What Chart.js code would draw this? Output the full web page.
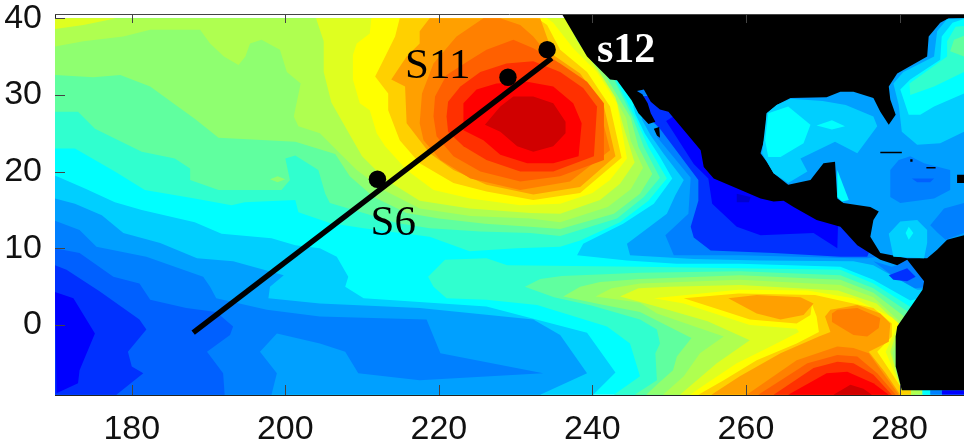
<!DOCTYPE html>
<html>
<head>
<meta charset="utf-8">
<style>
  html, body { margin: 0; padding: 0; background: #fff; }
  #wrap { width: 964px; height: 440px; }
</style>
<script src="https://cdn.jsdelivr.net/npm/chart.js@4"></script>
</head>
<body>
<div id="wrap"><canvas id="map" width="964" height="440"></canvas></div>
<script>
// tick labels
const lonTicks = [180, 200, 220, 240, 260, 280];
const latTicks = [0, 10, 20, 30, 40];

// section line and stations (lon, lat)
const sectionLon = [188, 234.7];
const sectionLat = [-1, 34.8];
const stationLon = [212, 229, 234.1];
const stationLat = [19, 32.3, 35.9];

// contour outlines, flat lon,lat lists
const seaBase = [170,-9.1, 288.4,-9.1, 288.4,40, 170,40];

// warm tongue north of 10N
const north7 = [170,40, 170,23, 172.6,23, 177.8,20, 181.7,17.6, 188.2,16.5, 193,15.6, 194.7,16, 201.3,16.3, 201.7,14.7, 205.8,13.3, 210.2,12.6, 218.8,11.5, 224,9.6, 230.1,10, 235.8,10.2, 238.4,11, 243.6,13.4, 247.3,16.2, 249.7,19.1, 247.3,23.2, 245.5,27.2, 243,32, 240,40];
const north8 = [170,40, 170,27.8, 173,27.8, 175.2,25.6, 181.3,22.6, 185.6,21.7, 187.6,20.4, 187.6,18.9, 191.3,17.6, 199.5,17.6, 200.6,18.9, 200,21.7, 201.3,22.1, 204.3,20.2, 205.2,17.1, 205.8,15.9, 210.2,14.6, 214.5,13.3, 218.8,12.6, 225.4,12.2, 231.9,12, 235.8,11.6, 243.2,13.9, 246.7,16.7, 248.8,19.2, 246.7,23.2, 245.2,27.2, 242.8,32, 239,40];
const north9 = [170,40, 170,32.6, 175,32.3, 178.5,32.6, 182.4,31.1, 185.4,28.9, 188.2,26.9, 191.3,24.4, 201.3,23.9, 206.5,22.3, 208.4,19.4, 211.5,16.7, 215.8,14.6, 220,13.9, 226,13.2, 231.9,12.8, 235.8,12.5, 242.8,14.5, 246.2,17.1, 247.8,19.7, 246,23.2, 245,27, 242,32, 238.5,40];
const north10 = [170,40, 170,36.3, 173.7,37, 178.9,37.6, 182.4,38.5, 188.9,38.5, 190.2,36.7, 192,35, 193.9,33.9, 194.8,35, 195.4,36.7, 196.9,37.2, 199.3,35.9, 200.2,33, 202,31.5, 201.1,27.2, 201.7,25.9, 204.5,25, 207.1,22.4, 209.3,20.2, 212.8,17.6, 217.5,15.2, 224.1,14.2, 231.9,13.9, 235.8,13.4, 242,15.4, 245,17.7, 246.6,20.5, 245,24, 244.4,27, 241,33, 238,37, 237,40];
const north11 = [204,40, 205,37, 205,33, 206,29, 208,25.5, 210,22, 213,19, 217.5,16.2, 224,15.2, 231.9,14.6, 235.8,14.5, 241,16.3, 243.6,18.4, 245.5,21.2, 244,26, 243,29.7, 240.5,33.5, 238,37, 236.5,40];
const corner11 = [170,40, 178,40, 173.7,39.1, 170,38.6];
const north12 = [211.2,40, 211,38, 209.3,36.7, 208.8,35.2, 208.8,32, 209.7,28.9, 211,28, 211.9,25, 213,23.3, 215.8,20.2, 219.3,17.6, 224.1,16.5, 230.6,15.6, 235.8,15.8, 240,17.2, 242.3,18.9, 244.5,21.7, 243.2,28.9, 240.6,33, 237.5,36.1, 234.9,39.4, 234.1,40];
const north13 = [214.9,40, 214.3,37.6, 212.8,34.6, 211.7,32.4, 213.4,30.2, 213.4,28, 214.9,24.1, 217.5,21.1, 221.9,18.5, 226.2,17.4, 232.3,16.3, 238.4,17.2, 243.8,21.8, 242.3,28.5, 239.3,33, 235.8,35.9, 234.1,39.1, 232.8,40];
const north14 = [218.8,40, 217.5,38.3, 217.5,36.7, 215.8,35, 213.8,32, 215.6,31.1, 215.8,26.3, 218.8,22.4, 221.9,20.2, 226.2,18.3, 232.3,17, 238.4,18, 243,22, 241.5,28.5, 238.4,32.8, 234.9,35.2, 233.2,40];
const north15 = [217.5,26.3, 217.8,30.2, 219.3,34.1, 222.3,37.6, 225.8,40, 228,40, 230.6,39.1, 232.3,37.6, 234.1,35.4, 237.5,32.6, 240.6,29.6, 242.3,22.8, 237.1,18.7, 230.6,17.6, 224.1,19.1, 220.2,21.5, 218,24.1];
const north16 = [219.3,27.2, 219.5,29.8, 221,32.6, 224.1,34.6, 226.2,35.9, 229.7,37.2, 232.3,36.1, 235.8,34.1, 239.3,31.7, 241.5,28.9, 241.5,21.5, 235.8,19.4, 230.6,18.7, 225.4,20, 221.9,22, 219.7,24.6];
const north17 = [221,27.2, 221.2,29.1, 222.8,31.1, 225.4,33, 228.8,34.1, 232.3,34.4, 235.8,33, 238.8,30.9, 240.6,28.5, 240.2,22, 234.9,20, 230.6,20, 226.2,21.5, 223.2,23.3, 221.2,25.2];
const north18 = [223.2,28.9, 224.9,30.7, 227.5,31.5, 231.5,31.7, 234.9,31.1, 237.5,28.9, 238.6,26.3, 238.2,22, 234.9,21.1, 231.5,21.1, 228,22.2, 225.8,24.1, 223.2,25.4];
const north19 = [226,26.1, 228,28.5, 229.7,29.8, 232.3,29.8, 234.9,28.9, 236.5,26.5, 236.5,25, 234.9,23.3, 232.3,22.6, 230.2,23.3, 228,25.2];
const speck9 = [198,19, 199,19.4, 200,19, 199,18.6];

// warm tongue along the equator
const south7 = [218.6,6.3, 220.8,8.5, 226.2,8.7, 228.9,7.8, 246.2,7.6, 259.2,7.4, 272.3,7.2, 276.6,5.4, 282,2, 282,-9.1, 242.8,-9.1, 246.2,-6.7, 244.9,-2.4, 241.9,-0.2, 232.8,2.6, 226.2,3.3, 221,3.5, 219.3,5];
const south8 = [231.2,5, 233.2,6, 236,6.4, 246.2,6.8, 259.2,7, 272.3,6.5, 276.6,4.8, 281,1.8, 282,-9.1, 245.5,-9.1, 248.4,-7.2, 248.2,-3.7, 248.8,-2.4, 248.4,-0.6, 246.2,0.7, 240,2.5, 235,3.6];
const south9 = [236.2,3.7, 238.4,5, 241,5.6, 246.2,6, 259.2,6.5, 272.3,5.9, 276.6,4.2, 280.5,1.2, 282,-3, 282,-9.1, 247,-9.1, 248.6,-7.6, 250.5,-5.9, 251,-4.1, 252.9,-1.7, 246.2,1.7, 241,2.7];
const south10 = [240.4,3.7, 242.5,4.8, 246.2,5.4, 259.2,5.9, 272.3,5.2, 276.6,3.6, 280,0.5, 279.5,-2.4, 279.1,-3.7, 279.7,-6.7, 281,-9.1, 249.2,-9.1, 251.9,-6.7, 254,-3.7, 257.1,-1.5, 248.4,1.5, 246.2,2.9];
const south11 = [243.6,3.7, 246,4.8, 250,5, 259.2,5.2, 272,4.5, 277,2.8, 280,0, 279.5,-1.3, 278.8,-3.5, 280.3,-8.7, 280.6,-9.1, 251.4,-9.1, 256.2,-5, 260.5,-2, 255,0.5, 248,2.5];
const south12 = [248,3.5, 259,4.6, 268,4.5, 274,3.5, 279,1, 279.9,0.2, 278.2,-3.5, 280.3,-8.5, 280.6,-9.1, 252.7,-9.1, 254.9,-7.6, 258.8,-5, 263.2,-2.8, 266.9,-0.9, 266.6,-0.5, 260.5,0, 257.1,1.1, 251.9,2.8];
const south13 = [251.9,3.5, 259,4.1, 269,3.9, 276.6,2.2, 279,0.2, 279,-1.5, 277.1,-3.5, 280.1,-8, 280.4,-9.1, 253.8,-9.1, 257.1,-7.2, 261.4,-4.6, 266.6,-2.4, 269.5,-0.9, 269.2,1.1, 268.6,2.7, 268.4,1.3, 266.6,0.2, 260.5,0.7, 257.5,1.7];
const blob14 = [257.7,3.5, 261.4,3.9, 267.1,3.6, 268.8,2.8, 267.5,1.3, 264.5,0.7, 261.4,1.5];
const south14 = [255.5,-9.1, 259.2,-6.7, 264.5,-3.7, 269.5,-1.5, 271,-0.9, 270.3,1.1, 271,2, 274.5,2.6, 277.5,1.5, 278.8,0.2, 278.6,-2.2, 276,-3.5, 278.2,-6.3, 280.1,-9.1];
const blob15 = [271.2,1.5, 271.9,2, 274.5,2.2, 277.5,0.9, 277.3,-0.4, 275.8,-1.5, 274,-1.3, 271.2,0.4];
const south15 = [260.1,-9.1, 266.6,-4.6, 271.9,-2.8, 274,-3, 276,-3.7, 279.9,-9.1];
const south16 = [261.6,-9.1, 268,-5, 271.9,-3.9, 274.5,-4.1, 277.1,-6.3, 279.5,-9.1];
const south17 = [263.6,-9.1, 268.8,-5.6, 271.9,-4.8, 274,-5, 276.6,-6.5, 279,-9.1];
const south18 = [265.5,-9.1, 270.5,-6.3, 273.2,-6.1, 276.6,-7.6, 278.6,-9.1];
const south19 = [271.4,-9.1, 273.6,-7.8, 275.3,-8.3, 276.4,-9.1];

// cold water, west and south
const west5 = [170,19.5, 173.9,17.8, 177.8,16, 181.3,15, 188.2,13.4, 191.7,11.9, 198.2,11.3, 201.3,10.4, 204.5,10, 206.7,8.9, 208.2,6.3, 207.8,5, 210.2,3.5, 226.2,2.4, 239.3,-1, 243,-6.2, 240.1,-9.1, 170,-9.1];
const west4 = [170,16.5, 172.6,15.8, 176.1,14.3, 178.9,12, 183.7,10.7, 188.5,8.7, 193.2,8.3, 199.8,6.5, 198,5, 197.8,3.5, 204.5,2.8, 217.5,2.2, 232.3,0.7, 235.8,-1.3, 239.3,-6.3, 233.2,-9.1, 170,-9.1];
const west3 = [170,13.6, 173.2,12.4, 175.4,10.2, 181.9,8.9, 189.3,6.3, 190.2,5, 191,3.5, 197.6,2, 204.5,1.1, 218.4,0.7, 220.2,-3.7, 233.6,-6.3, 217.5,-7.2, 209.5,-6.3, 207.8,-3.5, 204.5,-2.4, 198.9,-1.1, 196.7,-3.5, 198.9,-6.3, 198.2,-9.1, 170,-9.1];
const west2 = [170,10, 173.2,9.4, 177.6,6.3, 181,5.4, 182.4,3.3, 187.1,2.2, 191,1.7, 193.2,-0.2, 192.8,-1.3, 189.8,-3.5, 191.9,-6.3, 192.1,-9.1, 170,-9.1];
const west1 = [170,7.8, 171.5,7.2, 175.8,4.4, 181,0.7, 181.9,-0.6, 179.5,-3.5, 180,-5.4, 181.5,-6.3, 178,-9.1, 170,-9.1];
const west0 = [170,4.3, 172.4,3.5, 175.2,-1.1, 173.2,-5.9, 173,-7.6, 170.2,-8.9];

// cold water along the Mexican coast
const coast5 = [238,9.1, 238.8,10.6, 244,13.2, 248,15.8, 250.4,19.1, 248.8,21.9, 246.8,25, 245.6,27.5, 245.3,28.6, 250,32, 285,10, 285,4, 281.4,3.2, 276.6,5.9, 272.3,7.6, 259.2,8, 251,8, 244.5,8.4];
const coast4 = [244.5,10.6, 249.7,14.5, 250.8,16.9, 251.9,18.9, 249.3,22.3, 247.6,24.7, 246.4,26.9, 250,32, 285,10, 285,4.6, 282.3,4.6, 276.6,7.8, 274,8.3, 261.9,8.4, 253.2,8.6, 244.9,9.1];
const coast3 = [248.4,24.5, 252.8,19.2, 252.5,14.5, 249.5,11.7, 250.6,9.1, 259.2,9.1, 274,8.7, 275.8,8.7, 278,9, 276,14, 268,20, 250,30];
const coast2 = [248.8,25.6, 253.8,18.9, 253.8,16.2, 252.8,12.8, 253.2,11.4, 255.4,9.7, 263.6,9.4, 272.3,8.9, 275.8,8.9, 277,12, 268,20, 250,30];
const coast1 = [249.6,26.6, 253.2,21, 255.1,19.1, 255.6,15.8, 258.8,12.8, 261.9,11.7, 268.8,12, 271.9,10, 272,13.3, 271,14, 268,20, 255,30];
const coast0 = [258.8,17.1, 260.6,16.7, 260.4,16, 258.8,16];
const bight3 = [276.6,8.3, 279,7.6, 279.7,7.8, 281,8.5, 283,6.3, 284,5, 282,4.8, 279,6.5];
const bight2 = [278.6,6.5, 281,7.4, 282.1,6.3, 281,5.7, 279.2,5.9];
// Gulf of California strip
const strip1 = [246.6,29.9, 247.5,29.9, 250,27.8, 249.6,26.6, 248.8,25.6, 247.6,26.8];
const strip3 = [245.5,30.6, 246.9,30.9, 247.5,29.9, 246.6,29.9];

// land
const pacificCoast = [236,40.6, 239.3,35, 242.3,32, 243.2,31.9, 245.1,29.3, 246,27.6, 247.3,26.2, 248.2,26.5, 247.6,27.6, 247.2,28.9, 246.5,30.1, 245.8,30.5, 246.7,30.7, 247.6,29.1, 248.8,28.1, 249.9,27.8, 254.1,22.8, 254.5,20.6, 255.8,19.1, 258.4,18, 261.9,16.5, 263.6,16.1, 264.9,16.2, 266.2,15.4, 269.2,13.7, 272.3,12.8, 274.5,10.4, 277.5,8.5, 279.7,7.8, 281,8.5, 283.2,5.7, 283,4.6, 279.7,-0.2, 279.5,-1.5, 279.5,-5.4, 280.3,-8.5, 288.4,-8.5, 288.4,40.6];
const bajaTip = [248,25.6, 248.7,25.8, 248.8,24.4, 248.4,24.7];

// strip under the land at the bottom edge
const edgeA = [280.3,-9.1, 281.5,-9.1, 281.5,-8.5, 280.3,-8.5];
const edgeB = [281.5,-9.1, 283,-9.1, 283,-8.5, 281.5,-8.5];
const edgeC = [283,-9.1, 284,-9.1, 284,-8.5, 283,-8.5];
const edgeD = [284,-9.1, 285.5,-9.1, 285.5,-8.5, 284,-8.5];
const edgeE = [285.5,-9.1, 288.4,-9.1, 288.4,-8.5, 285.5,-8.5];

// Gulf, Caribbean and Atlantic
const atlantic4 = [286.4,40, 288.4,40, 288.4,11.7, 286.2,11.1, 284.9,9.8, 283.6,8.7, 281,8.7, 277.5,9.4, 276.2,11.5, 276.6,13.7, 277.3,14.8, 276.2,15.4, 272.7,15.9, 271.9,16.5, 271.6,21.3, 270.1,21.1, 268.4,18.9, 265.5,18.3, 263.6,19.8, 262.7,21.3, 261.9,22.4, 262.5,24.6, 262.7,27.6, 264,28.7, 265.8,29.6, 270.5,29.7, 272.3,30.4, 274,30.4, 276.6,29.6, 277.5,27.8, 278.6,26.1, 279.5,27.4, 278.8,29.4, 278.6,31.1, 279.7,32.8, 283.6,35, 283.8,37.6, 285.3,39.4];
const gulf5 = [262.7,27.6, 264,28.7, 265.8,29.5, 270,29.2, 273,28.7, 276.6,27.2, 277.1,25.9, 274.5,22.4, 271.6,23.9, 267.1,21.7, 268,20, 265.5,18.5, 263.6,19.8, 262.1,22.4];
const gulf6 = [262.9,27.6, 265.5,28.5, 268.4,26.1, 267.5,23.7, 264.5,21.9, 262.9,21.9, 262.5,24.1];
const gulfDiamond = [269.2,26, 271.2,26.7, 272.9,25.9, 271.2,25.5];
const atlantic5 = [286.2,39.9, 284.9,38.3, 284.5,35, 280.5,33, 279.2,31.5, 279.9,28.7, 280.3,25.2, 282.3,23.5, 285.3,23.7, 288.4,25.2, 288.4,40];
const atlantic6 = [286.9,39.4, 285.5,37.6, 285.3,34.6, 281.4,32, 280.1,30.7, 281.2,27.4, 282.7,27.4, 284.5,28.5, 288.4,30.2, 288.4,39.9];
const atlantic7 = [287.3,38.9, 286.2,37, 286.2,35, 281.3,31.5, 281.4,30, 284.5,31.1, 288.4,33, 288.4,39];
const atlantic8 = [287.1,37.2, 286.6,35.7, 288.4,35, 288.4,37.7];
const carib3 = [278.8,20.2, 279.9,21.5, 281.4,22, 283.2,21.1, 286.6,20.2, 286.6,17.6, 284.5,16.5, 280.1,15.9, 278.8,16.7];
const carib2 = [281.6,19.1, 284.5,19.1, 284,18.6, 282.3,18.6];
const carib5 = [278.6,11.9, 280.1,13.5, 282.3,13.7, 283.6,12.4, 283.6,10.7, 283.2,8.7, 279.2,8.9];
const caribDiamond = [280.8,12, 281.2,12.8, 281.8,12, 281.2,11.1];
const caribEast = [284,13, 285.8,15.2, 288.4,15.9, 288.4,12, 286,11.1, 285,12];
const yucatanEdge = [271.9,20.2, 273.4,16.3, 272.5,16.1, 271.9,16.7];
const cuba = [277.5,22.6, 280.3,22.6, 280.3,22.4, 277.5,22.4];
const jamaica = [283.5,20.6, 284.7,20.6, 284.7,20.4, 283.5,20.4];
const caymanDot = [281.4,21.6, 281.7,21.6, 281.7,21.3, 281.4,21.3];
const hispaniola = [287.5,19.6, 288.4,19.6, 288.4,18.5, 287.5,18.5];

// colour of each contour level
const levelColors = {
  d: '#0000d0', b0: '#0000ff', b1: '#0030ff', b2: '#0060ff', b3: '#0080ff', b4: '#00a0ff', b5: '#00cfff',
  c6: '#00ffff', c7: '#30ffcf', c8: '#60ff9f', c9: '#8fff70', c10: '#afff50', c11: '#dfff20',
  y12: '#ffff00', o13: '#ffd000', o14: '#ffa000', o15: '#ff8000', o16: '#ff6000', r17: '#ff3000', r18: '#ff0000', r19: '#d00000',
  k: '#000000'
};

// painted back to front
const paintOrder = [
  ['c6', seaBase],
  ['c7', north7], ['c7', south7], ['c8', north8], ['c8', south8], ['c9', north9], ['c9', south9], ['c9', speck9],
  ['c10', north10], ['c10', south10], ['c11', north11], ['c11', corner11], ['c11', south11],
  ['y12', north12], ['y12', south12], ['o13', north13], ['o13', south13],
  ['o14', north14], ['o14', south14], ['o14', blob14], ['o15', north15], ['o15', south15], ['o15', blob15],
  ['o16', north16], ['o16', south16], ['r17', north17], ['r17', south17],
  ['r18', north18], ['r18', south18], ['r19', north19], ['r19', south19],
  ['b5', west5], ['b4', west4], ['b3', west3], ['b2', west2], ['b1', west1], ['b0', west0],
  ['b5', coast5], ['b4', coast4], ['b3', coast3], ['b1', coast2], ['b0', coast1], ['d', coast0],
  ['b3', bight3], ['b1', bight2], ['b1', strip1], ['b3', strip3],
  ['o13', edgeA], ['c10', edgeB], ['c6', edgeC], ['b3', edgeD], ['b0', edgeE],
  ['k', pacificCoast], ['k', bajaTip],
  ['b4', atlantic4], ['b5', gulf5], ['c6', gulf6], ['c6', gulfDiamond],
  ['b5', atlantic5], ['c6', atlantic6], ['c7', atlantic7], ['c8', atlantic8],
  ['b3', carib3], ['b2', carib2], ['b5', carib5], ['c6', caribDiamond], ['b3', caribEast], ['c6', yucatanEdge],
  ['k', cuba], ['k', jamaica], ['k', caymanDot], ['k', hispaniola]
];

// station labels: text, lon, lat of the baseline start
const labelText = ['S11', 'S6', 's12'];
const labelLon = [215.6, 211.1, 240.6];
const labelLat = [32.2, 11.7, 34.3];

function toPoints(flat) {
  const pts = [];
  for (let i = 0; i < flat.length; i += 2) pts.push({ x: flat[i], y: flat[i + 1] });
  return pts;
}

const datasets = paintOrder.map(function (item, i) {
  return {
    data: toPoints(item[1]),
    showLine: true,
    fill: 'shape',
    backgroundColor: levelColors[item[0]],
    borderWidth: 0,
    pointRadius: 0,
    tension: 0,
    order: paintOrder.length + 2 - i
  };
});

datasets.push({
  data: sectionLon.map((v, i) => ({ x: v, y: sectionLat[i] })),
  showLine: true,
  borderColor: '#000',
  borderWidth: 5.5,
  pointRadius: 0,
  order: 1
});
datasets.push({
  data: stationLon.map((v, i) => ({ x: v, y: stationLat[i] })),
  showLine: false,
  backgroundColor: '#000',
  borderWidth: 0,
  pointRadius: 8.7,
  order: 0
});

// inward ticks, top frame line and the station labels
const framePlugin = {
  id: 'frame',
  afterDraw(chart) {
    const ctx = chart.ctx, a = chart.chartArea, x = chart.scales.x, y = chart.scales.y;
    ctx.save();
    ctx.strokeStyle = '#444';
    ctx.lineWidth = 1;
    ctx.beginPath();
    ctx.moveTo(a.left, a.top + 0.5);
    ctx.lineTo(a.right, a.top + 0.5);
    lonTicks.forEach(function (v) {
      const px = Math.round(x.getPixelForValue(v)) + 0.5;
      ctx.moveTo(px, a.top);
      ctx.lineTo(px, a.top + 9);
      ctx.moveTo(px, a.bottom);
      ctx.lineTo(px, a.bottom - 10);
    });
    latTicks.forEach(function (v) {
      const py = Math.round(y.getPixelForValue(v)) + 0.5;
      ctx.moveTo(a.left, py);
      ctx.lineTo(a.left + 10, py);
    });
    ctx.stroke();

    ctx.textBaseline = 'alphabetic';
    labelText.forEach(function (t, i) {
      const bold = t === 's12';
      ctx.font = (bold ? 'bold 42px' : '43px') + ' "Liberation Serif"';
      ctx.fillStyle = bold ? '#fff' : '#000';
      ctx.fillText(t, x.getPixelForValue(labelLon[i]), y.getPixelForValue(labelLat[i]));
    });
    ctx.restore();
  }
};

new Chart(document.getElementById('map'), {
  type: 'scatter',
  data: { datasets: datasets },
  plugins: [framePlugin],
  options: {
    responsive: false,
    animation: false,
    layout: { autoPadding: false, padding: { top: 14, right: 0, left: 0, bottom: 0 } },
    plugins: { legend: { display: false }, tooltip: { enabled: false } },
    scales: {
      x: {
        type: 'linear',
        min: 170,
        max: 288.4,
        afterBuildTicks(s) { s.ticks = lonTicks.map(v => ({ value: v })); },
        afterFit(s) { s.height = 45; s.paddingLeft = 0; s.paddingRight = 0; },
        grid: { display: false },
        border: { color: '#222' },
        ticks: { color: '#111', padding: 6, maxRotation: 0, font: { family: 'Liberation Sans', size: 34 } }
      },
      y: {
        type: 'linear',
        min: -9.13,
        max: 40.55,
        afterBuildTicks(s) { s.ticks = latTicks.map(v => ({ value: v })); },
        afterFit(s) { s.width = 55; s.paddingTop = 0; s.paddingBottom = 0; },
        grid: { display: false },
        border: { color: '#222' },
        ticks: { color: '#111', padding: 5, font: { family: 'Liberation Sans', size: 34 } }
      }
    }
  }
});
</script>
</body>
</html>
